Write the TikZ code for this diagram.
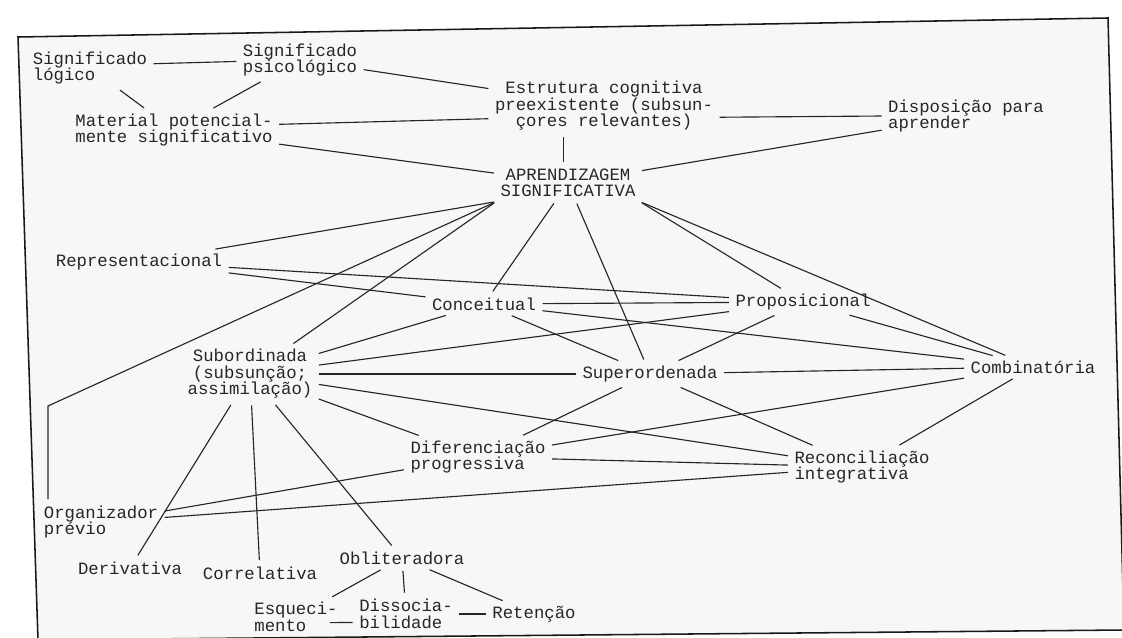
\documentclass[tikz,border=0pt]{standalone}
\usepackage{fontspec}
\setmainfont{Liberation Mono}

\begin{document}
\begin{tikzpicture}[
    x=0.025cm, y=-0.025cm, % one unit = one pixel of the scanned page
    concept/.style={inner sep=3pt, font=\fontsize{12.3pt}{11.8pt}\selectfont, text=black!85},
    multi/.style={concept, align=left},
    link/.style={draw=black!85, line width=0.8pt, shorten <=1.5pt, shorten >=1.5pt},
    frame/.style={draw=black!90, line width=1.1pt, fill=black!3}
]

\path[use as bounding box, fill=white] (0,0) rectangle (1122,637);
\draw[frame] (18,37) -- (1108,18) -- (1124,630) -- (38,640) -- cycle;

% Top row
\node (sig_logico) at (90,68) [multi] {Significado\\lógico};
\node (sig_psico) at (300,60) [multi] {Significado\\psicológico};
\node (material) at (174,130) [multi] {Material potencial-\\mente significativo};
\node (estrutura) at (604,106) [concept, align=center] {Estrutura cognitiva\\preexistente (subsun-\\çores relevantes)};
\node (disposicao) at (966,116) [multi] {Disposição para\\aprender};

% Central node
\node (aprendizagem) at (568,183) [concept, align=center] {APRENDIZAGEM\\SIGNIFICATIVA};

% Types of learning
\node (representacional) at (139,262) [concept] {Representacional};
\node (conceitual) at (484,304) [concept] {Conceitual};
\node (proposicional) at (803,302) [concept] {Proposicional};
\node (subordinada) at (250,374) [concept, align=center] {Subordinada\\(subsunção;\\assimilação)};
\node (superordenada) at (650,374) [concept] {Superordenada};
\node (combinatoria) at (1033,367) [concept] {Combinatória};

% Processes
\node (diferenciacao) at (478,457) [multi] {Diferenciação\\progressiva};
\node (reconciliacao) at (862,467) [multi] {Reconciliação\\integrativa};
\node (organizador) at (101,522) [multi] {Organizador\\prévio};
\node (derivativa) at (130,568) [concept] {Derivativa};
\node (correlativa) at (260,573) [concept] {Correlativa};
\node (obliteradora) at (402,558) [concept] {Obliteradora};
\node (esquecimento) at (296,617) [multi] {Esqueci-\\mento};
\node (dissociabilidade) at (406,614) [multi] {Dissocia-\\bilidade};
\node (retencao) at (534,614) [concept] {Retenção};

\coordinate (organ_bend) at (48,406);

% Connections
\draw [link] ([yshift=3pt]sig_logico.east) -- ([yshift=-1pt]sig_psico.west);
\draw [link] (sig_logico) -- (material);
\draw [link] (sig_psico) -- (material);
\draw [link] (sig_psico) -- (estrutura);
\draw [link] ([yshift=4pt]material.east) -- ([yshift=-9pt]estrutura.west);
\draw [link] (material) -- (aprendizagem);
\draw [link] ([yshift=-8pt]estrutura.east) -- (disposicao.west);
\draw [link] ([xshift=-3pt]aprendizagem.north) -- ([xshift=-3pt]aprendizagem.north |- estrutura.south);
\draw [link] (disposicao) -- (aprendizagem);

\draw [link] (aprendizagem.south west) -- (representacional);
\draw [link] (aprendizagem.south west) -- (subordinada);
\draw [link] (aprendizagem.south west) -- (organ_bend) -- (organ_bend |- organizador.north);
\draw [link] (aprendizagem) -- (conceitual);
\draw [link] (aprendizagem) -- (superordenada);
\draw [link] (aprendizagem.south east) -- (proposicional);
\draw [link] (aprendizagem.south east) -- (combinatoria);

\draw [link] (representacional) -- (conceitual);
\draw [link] (representacional) -- (proposicional);
\draw [link] (conceitual) -- (proposicional);
\draw [link] (conceitual) -- (combinatoria);
\draw [link] (conceitual) -- (superordenada);
\draw [link] (conceitual) -- (subordinada);
\draw [link] (proposicional) -- (subordinada);
\draw [link] (proposicional) -- (superordenada);
\draw [link] (proposicional) -- (combinatoria);

\draw [link] (subordinada) -- (superordenada);
\draw [link] (subordinada) -- (reconciliacao);
\draw [link] (subordinada) -- (diferenciacao);
\draw [link] (subordinada) -- (derivativa);
\draw [link] (subordinada) -- (correlativa);
\draw [link] (subordinada) -- (obliteradora);
\draw [link] (superordenada) -- (diferenciacao);
\draw [link] (superordenada) -- (combinatoria);
\draw [link] (superordenada) -- (reconciliacao);
\draw [link] (combinatoria) -- (diferenciacao);
\draw [link] (combinatoria) -- (reconciliacao);
\draw [link] (diferenciacao) -- (reconciliacao);
\draw [link] (organizador) -- (diferenciacao);
\draw [link] (organizador) -- (reconciliacao);

\draw [link] (obliteradora) -- (esquecimento);
\draw [link] (obliteradora) -- (dissociabilidade);
\draw [link] (obliteradora) -- (retencao);
\draw [link] ([xshift=-10pt, yshift=-4pt]esquecimento.east) -- ([yshift=-6pt]dissociabilidade.west);
\draw [link] (dissociabilidade) -- (retencao);

\end{tikzpicture}
\end{document}
